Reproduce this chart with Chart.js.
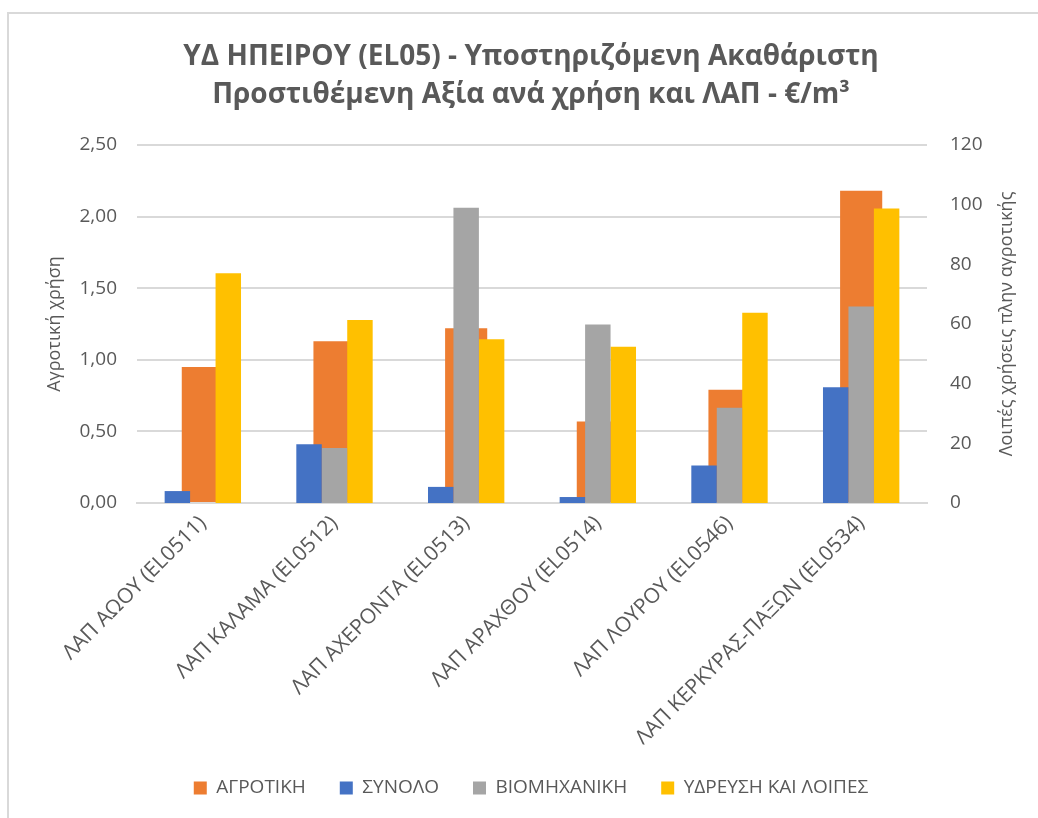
<!DOCTYPE html>
<html>
<head>
<meta charset="utf-8">
<script src="https://cdn.jsdelivr.net/npm/chart.js@4/dist/chart.umd.min.js"></script>
<style>
  html, body { margin: 0; padding: 0; background: #fff; overflow: hidden; }
</style>
</head>
<body>
<canvas id="chart" width="1038" height="818"></canvas>
<script>
// categories (ΛΑΠ)
const categories = [
  'ΛΑΠ ΑΩΟΥ (EL0511)',
  'ΛΑΠ ΚΑΛΑΜΑ (EL0512)',
  'ΛΑΠ ΑΧΕΡΟΝΤΑ (EL0513)',
  'ΛΑΠ ΑΡΑΧΘΟΥ (EL0514)',
  'ΛΑΠ ΛΟΥΡΟΥ (EL0546)',
  'ΛΑΠ ΚΕΡΚΥΡΑΣ-ΠΑΞΩΝ (EL0534)'
];

// left axis (€/m3)
const agrotiki = [0.95, 1.13, 1.22, 0.57, 0.79, 2.18];
// right axis (€/m3)
const synolo = [4.0, 19.7, 5.4, 2.0, 12.6, 38.8];
const viomixaniki = [0, 18.4, 99.0, 59.8, 31.9, 65.9];
const ydreusi = [77.0, 61.3, 54.9, 52.4, 63.8, 98.7];

const seriesNames = ['ΑΓΡΟΤΙΚΗ', 'ΣΥΝΟΛΟ', 'ΒΙΟΜΗΧΑΝΙΚΗ', 'ΥΔΡΕΥΣΗ ΚΑΙ ΛΟΙΠΕΣ'];
const titleLines = ['ΥΔ ΗΠΕΙΡΟΥ (EL05) - Υποστηριζόμενη Ακαθάριστη', 'Προστιθέμενη Αξία ανά χρήση και ΛΑΠ - €/m³'];
const leftTitle = 'Αγροτική χρήση';
const rightTitle = 'Λοιπές χρήσεις πλην αγροτικής';

const textColor = '#595959';
const gridColor = '#d9d9d9';
const FONT = "'Open Sans', 'Noto Sans', sans-serif";

// layout numbers (canvas px)
const W = 1038, H = 818;
const PLOT_L = 137, PLOT_R = 927, PLOT_B = 503;
const PAD_L = 40, PAD_R = 16;
const LEG_FONT = 19, LEG_PAD = 34, LEG_Y = 788;
const legTop = LEG_Y - LEG_PAD - LEG_FONT / 2;
const legH = LEG_FONT + LEG_PAD + 10;
const PAD_B = H - (legTop + legH);

const frame = {
  id: 'frame',
  beforeDraw(chart) {
    const ctx = chart.ctx;
    ctx.save();
    ctx.fillStyle = '#fff';
    ctx.fillRect(0, 0, chart.width, chart.height);
    ctx.strokeStyle = gridColor;
    ctx.lineWidth = 2;
    ctx.strokeRect(8, 13, 1100, 900);
    ctx.restore();
  }
};

// axis titles read bottom-to-top on both sides, as in Excel
function drawVertical(ctx, text, x, y) {
  ctx.save();
  ctx.translate(x, y);
  ctx.rotate(-Math.PI / 2);
  ctx.font = '18px ' + FONT;
  ctx.fillStyle = textColor;
  ctx.textAlign = 'center';
  ctx.textBaseline = 'middle';
  ctx.fillText(text, 0, 0);
  ctx.restore();
}

const axisTitles = {
  id: 'axisTitles',
  afterDraw(chart) {
    const a = chart.chartArea;
    const cy = (a.top + a.bottom) / 2;
    drawVertical(chart.ctx, leftTitle, 55, cy);
    drawVertical(chart.ctx, rightTitle, 1007, cy);
  }
};

new Chart(document.getElementById('chart'), {
  type: 'bar',
  data: {
    labels: categories,
    datasets: [
      {
        label: seriesNames[0],
        data: agrotiki,
        yAxisID: 'y',
        backgroundColor: '#ED7D31',
        grouped: false,
        categoryPercentage: 0.32,
        barPercentage: 1,
        order: 1
      },
      {
        label: seriesNames[1],
        data: synolo,
        yAxisID: 'y2',
        backgroundColor: '#4472C4',
        categoryPercentage: 0.58,
        barPercentage: 1,
        order: 0
      },
      {
        label: seriesNames[2],
        data: viomixaniki,
        yAxisID: 'y2',
        backgroundColor: '#A5A5A5',
        categoryPercentage: 0.58,
        barPercentage: 1,
        order: 0
      },
      {
        label: seriesNames[3],
        data: ydreusi,
        yAxisID: 'y2',
        backgroundColor: '#FFC000',
        categoryPercentage: 0.58,
        barPercentage: 1,
        order: 0
      }
    ]
  },
  options: {
    responsive: false,
    animation: false,
    layout: { padding: { left: PAD_L, right: PAD_R, top: 0, bottom: PAD_B } },
    plugins: {
      tooltip: { enabled: false },
      title: {
        display: true,
        text: titleLines,
        color: textColor,
        font: { family: FONT, size: 28, weight: 'bold', lineHeight: 38 / 28 },
        padding: { top: 38, bottom: 31 }
      },
      legend: {
        position: 'bottom',
        labels: {
          color: textColor,
          font: { family: FONT, size: LEG_FONT },
          boxWidth: 13,
          boxHeight: 13,
          padding: LEG_PAD,
          sort: (a, b) => a.datasetIndex - b.datasetIndex
        }
      }
    },
    scales: {
      x: {
        ticks: {
          color: textColor,
          font: { family: FONT, size: 21 },
          minRotation: 45,
          maxRotation: 45,
          padding: 0
        },
        grid: { display: false },
        border: { display: true, color: gridColor, width: 2 },
        afterFit: (s) => { s.height = legTop - PLOT_B; }
      },
      y: {
        position: 'left',
        min: 0,
        max: 2.5,
        ticks: {
          stepSize: 0.5,
          color: textColor,
          font: { family: FONT, size: 19 },
          padding: 20,
          callback: (v) => v.toFixed(2).replace('.', ',')
        },
        grid: { color: gridColor, lineWidth: 2, drawTicks: false },
        border: { display: false },
        afterFit: (s) => { s.width = PLOT_L - PAD_L; }
      },
      y2: {
        position: 'right',
        min: 0,
        max: 120,
        ticks: {
          stepSize: 20,
          color: textColor,
          font: { family: FONT, size: 19 },
          padding: 23
        },
        grid: { display: false, drawTicks: false },
        border: { display: false },
        afterFit: (s) => { s.width = W - PAD_R - PLOT_R; }
      }
    }
  },
  plugins: [frame, axisTitles]
});
</script>
</body>
</html>
